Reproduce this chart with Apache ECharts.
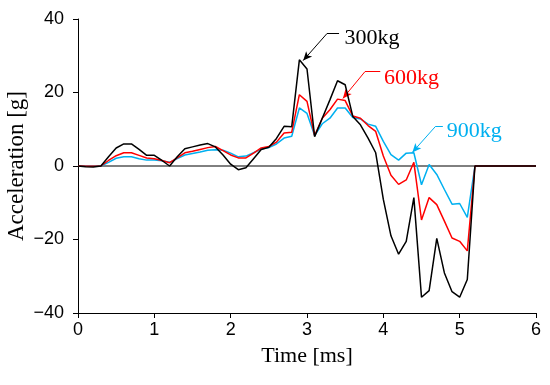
<!DOCTYPE html>
<html>
<head>
<meta charset="utf-8">
<script src="https://cdn.jsdelivr.net/npm/echarts@6/dist/echarts.min.js"></script>
<style>html,body{margin:0;padding:0;background:#fff}#c{width:550px;height:385px}</style>
</head>
<body>
<div id="c"></div>
<script>
// time samples [ms]
const time = [0,0.1,0.2,0.3,0.4,0.5,0.6,0.7,0.8,0.9,1.0,1.1,1.2,1.3,1.4,1.5,1.6,1.7,1.8,1.9,2.0,2.1,2.2,2.3,2.4,2.5,2.6,2.7,2.8,2.9,3.0,3.1,3.2,3.3,3.4,3.5,3.6,3.7,3.8,3.9,4.0,4.1,4.2,4.3,4.4,4.5,4.6,4.7,4.8,4.9,5.0,5.1,5.2,6.0];
const acc300 = [0,-0.2,-0.3,0,2.5,4.9,6.0,6.0,4.5,2.9,2.9,1.5,0,2.5,4.7,5.2,5.7,6.1,5.2,3.0,0.5,-1.0,-0.5,2.0,4.5,5.1,7.5,10.8,10.7,28.9,26.4,8.0,13.0,18.0,23.2,22.1,13.5,11.2,7.6,3.6,-9.1,-19.0,-24.0,-20.5,-8.6,-35.7,-33.9,-19.7,-29.1,-34.2,-35.7,-30.9,0,0];
const acc600 = [0,-0.1,-0.1,0,1.5,2.8,3.6,3.6,2.9,2.2,2.0,1.5,0.9,2.2,3.6,4.0,4.5,5.0,5.3,4.2,3.0,2.2,2.2,3.5,4.9,5.3,6.5,9.0,9.2,19.4,17.6,8.3,13.0,15.3,18.2,17.8,13.6,13.0,11.0,9.4,2.7,-2.5,-5.0,-3.8,1.0,-14.7,-8.6,-10.5,-15.0,-19.6,-20.5,-23.1,0,0];
const acc900 = [0,-0.1,-0.1,0,1.0,2.1,2.5,2.5,2.0,1.6,1.6,1.4,1.0,2.0,3.0,3.4,3.8,4.3,4.4,4.3,3.5,2.5,2.7,3.6,4.6,5.0,6.0,7.6,8.1,15.8,14.3,8.3,11.5,13.0,15.8,15.8,13.2,12.8,11.4,10.8,6.7,3.1,1.6,3.5,3.6,-5.1,0.4,-2.3,-6.4,-10.4,-10.2,-14.0,0,0];
const seriesNames = ['300kg','600kg','900kg'];
const seriesColors = ['#000000','#ff0000','#00b0f0'];
const xTicks = [0,1,2,3,4,5,6];
const yTicks = [-40,-20,0,20,40];

const pair = (xs, ys) => xs.map((x,i)=>[x, ys[i]]);
const values = [acc300, acc600, acc900];

// annotation leaders: [text anchor, elbow, end, arrow tip] in data coords
const notes = [
  {text:[3.49,34.8], a:[3.42,36.0], b:[3.26,36.0], tip:[2.95,28.7]},
  {text:[4.01,23.9], a:[3.96,25.7], b:[3.76,25.7], tip:[3.47,18.4]},
  {text:[4.83,9.5],  a:[4.78,10.7], b:[4.68,10.7], tip:[4.38,3.7]}
];

const serif = '"Liberation Serif","Times New Roman",serif';
const sans = '"Liberation Sans",Arial,sans-serif';

const series = values.map((v,i)=>({
  name: seriesNames[i],
  type: 'line',
  data: pair(time, v),
  showSymbol: false,
  symbol: 'none',
  lineStyle: {color: seriesColors[i], width: 1.5},
  z: 10 - i,
  markLine: {
    silent: true,
    animation: false,
    symbol: ['none','none'],
    lineStyle: {color: seriesColors[i], width: 1, type: 'solid'},
    label: {show: false},
    data: [
      [{coord: notes[i].a, symbol: 'none'}, {coord: notes[i].b, symbol: 'none'}],
      [{coord: notes[i].b, symbol: 'none'}, {coord: notes[i].tip, symbol: 'arrow', symbolSize: [6,9]}]
    ]
  },
  markPoint: {
    silent: true,
    animation: false,
    symbol: 'circle',
    symbolSize: 0,
    data: [{coord: notes[i].text, label: {show: true, position: 'right', distance: 0, formatter: seriesNames[i], color: seriesColors[i], fontFamily: serif, fontSize: 22}}]
  }
}));

// zero reference line
series.push({
  type: 'line',
  data: [[0,0],[6,0]],
  symbol: 'none',
  lineStyle: {color: '#000', width: 1},
  z: 1,
  silent: true
});

const minus = v => String(v).replace('-', '\u2212');

const chart = echarts.init(document.getElementById('c'), null, {renderer: 'canvas'});
chart.setOption({
  animation: false,
  backgroundColor: '#fff',
  grid: {left: 78, right: 14, top: 19, bottom: 72, containLabel: false, outerBoundsMode: 'none'},
  xAxis: {
    type: 'value', min: 0, max: 6, interval: 1,
    name: 'Time [ms]', nameLocation: 'middle', nameGap: 32, nameMoveOverlap: false,
    nameTextStyle: {fontFamily: serif, fontSize: 22, color: '#000'},
    axisLine: {onZero: false, lineStyle: {color: '#000', width: 1}},
    axisTick: {show: true, length: 5, lineStyle: {color: '#000'}},
    axisLabel: {fontFamily: sans, fontSize: 18, color: '#000', margin: 8},
    splitLine: {show: false}
  },
  yAxis: {
    type: 'value', min: -40, max: 40, interval: 20,
    name: 'Acceleration [g]', nameLocation: 'middle', nameGap: 50, nameMoveOverlap: false,
    nameTextStyle: {fontFamily: serif, fontSize: 23, color: '#000'},
    axisLine: {show: true, lineStyle: {color: '#000', width: 1}},
    axisTick: {show: true, length: 5, lineStyle: {color: '#000'}},
    axisLabel: {fontFamily: sans, fontSize: 18, color: '#000', margin: 14, formatter: minus},
    splitLine: {show: false}
  },
  series: series
});
</script>
</body>
</html>
